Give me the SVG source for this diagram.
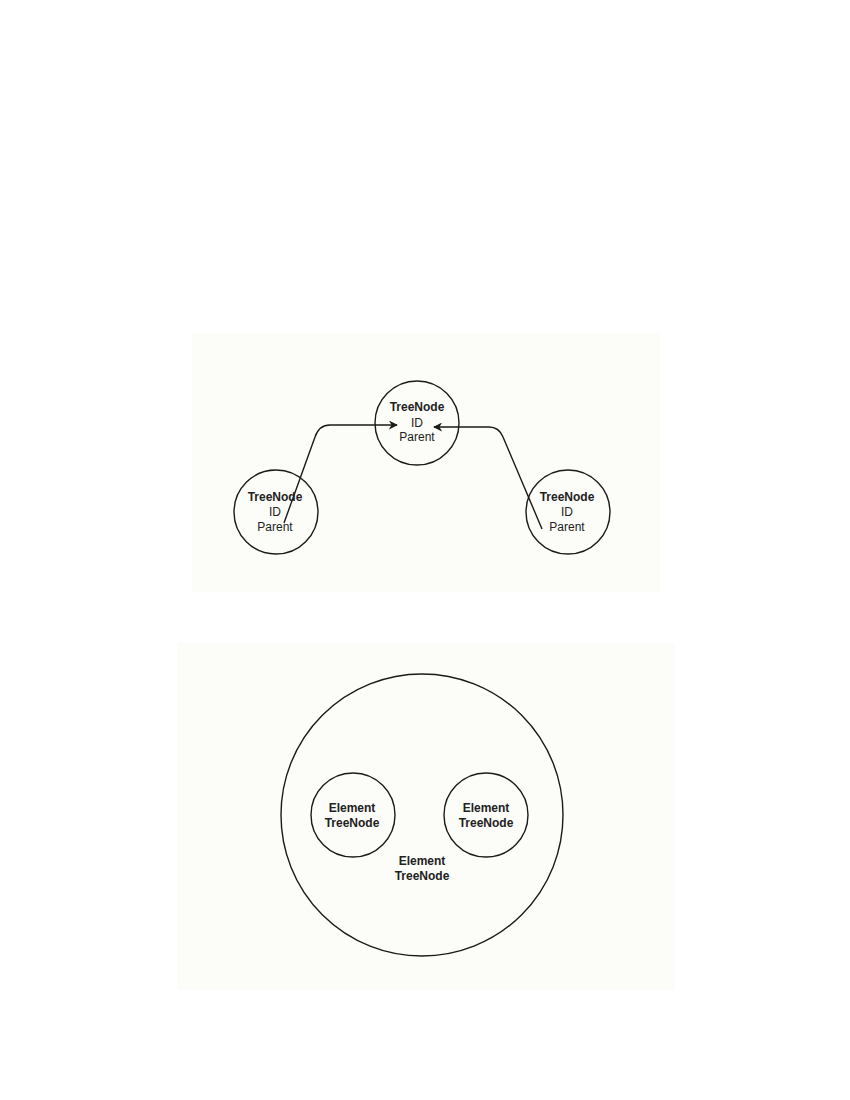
<svg xmlns="http://www.w3.org/2000/svg" width="850" height="1100" viewBox="0 0 850 1100">
<defs>
<style>
.panel{fill:#fcfcf8;stroke:none}
.node{fill:none;stroke:#1a1a1a;stroke-width:1.4}
.t{font-family:"Liberation Sans",Arial,sans-serif;font-size:12px;fill:#222;text-anchor:middle}
.b{font-weight:bold}
.edge{fill:none;stroke:#1a1a1a;stroke-width:1.4}
</style>
<marker id="arr" viewBox="0 0 10 10" refX="9" refY="5" markerWidth="9" markerHeight="9" orient="auto" markerUnits="userSpaceOnUse">
<path d="M0,0 L10,5 L0,10 L3,5 Z" fill="#1a1a1a"/>
</marker>
</defs>
<rect width="850" height="1100" fill="#ffffff"/>
<rect class="panel" x="192" y="333" width="468" height="259"/>
<rect class="panel" x="177" y="643" width="498" height="347"/>

<g id="connectors">
<path class="edge" d="M284,523 L315,437 Q319,425 330,425 L397,425" marker-end="url(#arr)"/>
<path class="edge" d="M542,529 L503,437 Q499,427 489,427 L434,427" marker-end="url(#arr)"/>
</g>

<g id="treenode-top">
<circle class="node" cx="417" cy="423" r="42"/>
<text class="t b" x="417" y="411">TreeNode</text>
<text class="t" x="417" y="427">ID</text>
<text class="t" x="417" y="441">Parent</text>
</g>
<g id="treenode-left">
<circle class="node" cx="276" cy="512" r="42"/>
<text class="t b" x="275" y="501">TreeNode</text>
<text class="t" x="275" y="516">ID</text>
<text class="t" x="275" y="531">Parent</text>
</g>
<g id="treenode-right">
<circle class="node" cx="568" cy="512" r="42"/>
<text class="t b" x="567" y="501">TreeNode</text>
<text class="t" x="567" y="516">ID</text>
<text class="t" x="567" y="531">Parent</text>
</g>

<g id="element-outer">
<circle class="node" cx="422" cy="815" r="141"/>
<text class="t b" x="422" y="865">Element</text>
<text class="t b" x="422" y="880">TreeNode</text>
</g>
<g id="element-left">
<circle class="node" cx="353" cy="815" r="42"/>
<text class="t b" x="352" y="812">Element</text>
<text class="t b" x="352" y="827">TreeNode</text>
</g>
<g id="element-right">
<circle class="node" cx="486" cy="815" r="42"/>
<text class="t b" x="486" y="812">Element</text>
<text class="t b" x="486" y="827">TreeNode</text>
</g>
</svg>
